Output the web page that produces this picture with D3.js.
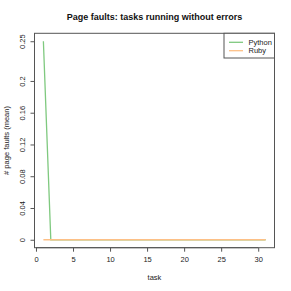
<!DOCTYPE html>
<html><head><meta charset="utf-8">
<script src="https://cdn.jsdelivr.net/npm/d3@7"></script>
<style>body{margin:0;background:#fff}svg{display:block}text{font-family:"Liberation Sans",Arial,sans-serif}</style>
</head><body>
<script>
const tasks = d3.range(1, 32);
const pythonValues = [0.25].concat(d3.range(2, 32).map(() => 0));
const rubyValues = d3.range(1, 32).map(() => 0);
const seriesNames = ["Python", "Ruby"];
const seriesColors = ["#7fc97f", "#fdc086"];
const xTicks = [0, 5, 10, 15, 20, 25, 30];
const yTicks = [0, 0.04, 0.08, 0.12, 0.16, 0.2, 0.25];
const yTickLabels = ["0", "0.04", "0.08", "0.12", "0.16", "0.2", "0.25"];

const W = 291, H = 291;
const L = 34.5, R = 274.5, T = 33.3, B = 247.7;
const svg = d3.select("body").append("svg").attr("width", W).attr("height", H);

const xPad = 30 * 0.04, yPad = 0.25 * 0.04;
const x = d3.scaleLinear().domain([1 - xPad, 31 + xPad]).range([L, R]);
const y = d3.scaleLinear().domain([0 - yPad, 0.25 + yPad]).range([B, T]);

const axisColor = "#555";
// x axis
const xa = svg.append("g").attr("transform", `translate(0,${B})`)
  .call(d3.axisBottom(x).tickValues(xTicks).tickSize(4).tickPadding(5).tickFormat(d3.format("d")));
xa.select(".domain").attr("d", `M${x(0)},0H${x(30)}`).attr("stroke", axisColor);
xa.selectAll(".tick line").attr("stroke", axisColor);
xa.selectAll("text").attr("font-size", 7.5).attr("fill", "#222").attr("font-family", "Liberation Sans, Arial, sans-serif");

// y axis
const ya = svg.append("g").attr("transform", `translate(${L},0)`)
  .call(d3.axisLeft(y).tickValues(yTicks).tickSize(4).tickFormat((d, i) => yTickLabels[i]));
ya.select(".domain").attr("d", `M0,${y(0)}V${y(0.25)}`).attr("stroke", axisColor);
ya.selectAll(".tick line").attr("stroke", axisColor);
ya.selectAll("text").attr("font-size", 7.5).attr("fill", "#222")
  .attr("font-family", "Liberation Sans, Arial, sans-serif")
  .attr("text-anchor", "middle").attr("x", 0).attr("dy", 0)
  .attr("transform", "translate(-10,0) rotate(-90)");

// lines
const line = d3.line().x((d, i) => x(tasks[i])).y(d => y(d));
[pythonValues, rubyValues].forEach((vals, k) => {
  svg.append("path").datum(vals).attr("d", line).attr("fill", "none")
    .attr("stroke", seriesColors[k]).attr("stroke-width", 1.3);
});

// box
svg.append("rect").attr("x", L).attr("y", T).attr("width", R - L).attr("height", B - T)
  .attr("fill", "none").attr("stroke", axisColor).attr("stroke-width", 1);

// legend
const lg = svg.append("g");
lg.append("rect").attr("x", 224).attr("y", T).attr("width", R - 224).attr("height", 58 - T)
  .attr("fill", "#fff").attr("stroke", axisColor).attr("stroke-width", 1);
seriesNames.forEach((n, i) => {
  const yy = 42.3 + i * 8.4;
  lg.append("line").attr("x1", 229).attr("x2", 243).attr("y1", yy).attr("y2", yy)
    .attr("stroke", seriesColors[i]).attr("stroke-width", 1.3);
  lg.append("text").attr("x", 248.5).attr("y", yy).attr("dy", "0.35em")
    .attr("font-size", 7.5).attr("fill", "#222").text(n);
});

// title & labels
svg.append("text").attr("x", (L + R) / 2).attr("y", 20).attr("text-anchor", "middle")
  .attr("font-size", 9).attr("font-weight", "bold").attr("fill", "#111")
  .text("Page faults: tasks running without errors");
svg.append("text").attr("x", (L + R) / 2).attr("y", 280).attr("text-anchor", "middle")
  .attr("font-size", 7.5).attr("fill", "#222").text("task");
svg.append("text").attr("transform", `translate(9,${(T + B) / 2}) rotate(-90)`)
  .attr("text-anchor", "middle").attr("font-size", 7.5).attr("fill", "#222")
  .text("# page faults (mean)");
</script>
</body></html>
